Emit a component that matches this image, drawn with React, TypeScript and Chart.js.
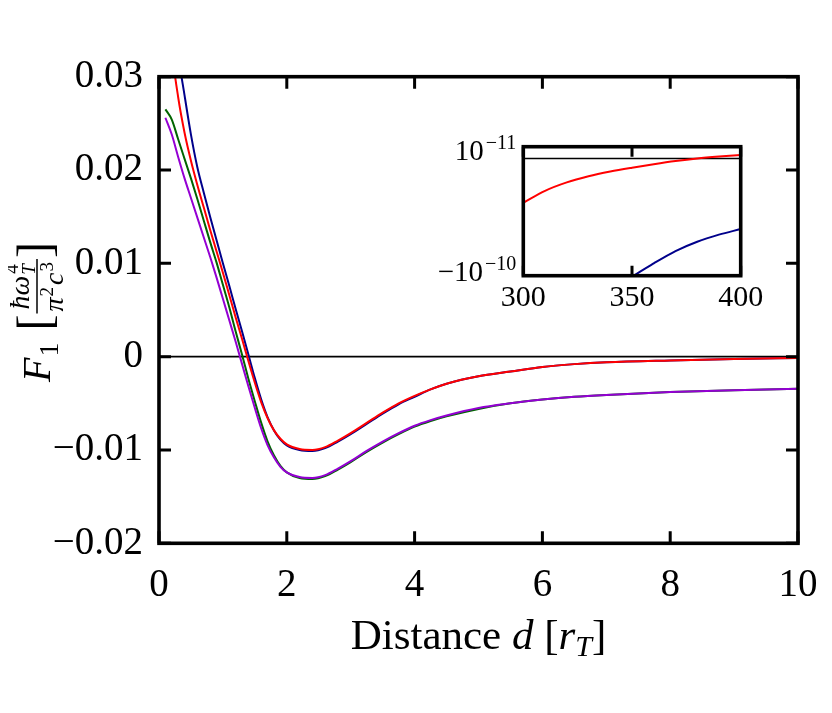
import React, { useEffect, useRef } from "react";
import { Chart, registerables } from "chart.js";
Chart.register(...registerables);

const FONT = "'Liberation Serif', 'Times New Roman', serif";

// Main plot data: distance d [r_T] and F_1 for four curves
const distance = [0.1, 0.2, 0.3, 0.4, 0.5, 0.6, 0.7, 0.8, 0.9, 1.0, 1.1, 1.2, 1.3, 1.4, 1.5, 1.6, 1.7, 1.8, 1.9, 2.0, 2.2, 2.4, 2.6, 2.8, 3.0, 3.25, 3.5, 3.75, 4.0, 4.25, 4.5, 5.0, 5.5, 6.0, 6.5, 7.0, 8.0, 9.0, 10.0];
const forceRed = [0.042, 0.033, 0.0278, 0.024, 0.021, 0.0184, 0.016, 0.0136, 0.0113, 0.009, 0.0066, 0.0042, 0.0019, -0.0005, -0.0028, -0.0049, -0.0066, -0.0079, -0.0088, -0.0094, -0.0099, -0.01, -0.0097, -0.009, -0.0082, -0.0071, -0.006, -0.005, -0.0042, -0.0035, -0.0029, -0.0021, -0.0016, -0.0011, -0.0008, -0.0006, -0.0004, -0.00025, -0.00015];
const forceBlue = [0.05, 0.0395, 0.0325, 0.028, 0.0238, 0.0203, 0.0176, 0.015, 0.0125, 0.01, 0.0076, 0.0051, 0.0027, 0.0002, -0.0023, -0.0046, -0.0065, -0.0079, -0.0089, -0.0095, -0.01, -0.0101, -0.0098, -0.0091, -0.0083, -0.0072, -0.0061, -0.0051, -0.0043, -0.0035, -0.0029, -0.0021, -0.0016, -0.0011, -0.0008, -0.0006, -0.0004, -0.00025, -0.00015];
const forceGreen = [0.0265, 0.0254, 0.0233, 0.0212, 0.0191, 0.0169, 0.0146, 0.0123, 0.0101, 0.0077, 0.0053, 0.0027, 0.0002, -0.0024, -0.0048, -0.0071, -0.0091, -0.0106, -0.0117, -0.0124, -0.013, -0.0131, -0.0128, -0.0121, -0.0113, -0.0102, -0.0092, -0.0083, -0.0075, -0.0069, -0.0064, -0.0056, -0.005, -0.0046, -0.0043, -0.0041, -0.0038, -0.0036, -0.00345];
const forcePurple = [0.0256, 0.0238, 0.0214, 0.0191, 0.017, 0.0149, 0.0128, 0.0107, 0.0085, 0.0062, 0.0039, 0.0016, -0.0008, -0.0032, -0.0055, -0.0077, -0.0095, -0.0108, -0.0118, -0.0124, -0.0129, -0.013, -0.0127, -0.012, -0.0112, -0.0101, -0.0091, -0.0082, -0.0074, -0.0068, -0.0063, -0.0055, -0.005, -0.0046, -0.0043, -0.0041, -0.0038, -0.0036, -0.00345];

// Inset data (large distances)
const insetDistanceRed = [300, 310, 320, 330, 340, 350, 360, 370, 380, 390, 400];
const insetRed = [-3.78e-11, -2.76e-11, -2.04e-11, -1.52e-11, -1.12e-11, -0.79e-11, -0.49e-11, -0.22e-11, 0.0, 0.16e-11, 0.29e-11];
const insetDistanceBlue = [340, 350, 360, 370, 380, 390, 400];
const insetBlue = [-11.5e-11, -10.1e-11, -8.95e-11, -7.9e-11, -7.1e-11, -6.5e-11, -6.02e-11];

const xTickStep = 2;
const yTickStep = 0.01;
const insetXTickStep = 50;
const insetYTickValues = [1e-11, -1e-10];
const insetYTickLabels = [["10", "\u221211"], ["\u221210", "\u221210"]];

const pts = (xs: number[], ys: number[]) => xs.map((x, i) => ({ x, y: ys[i] }));

function drawFrame(chart: any, tickLen: number, frameW: number, tickW: number, xTicks: boolean, yTicks: boolean) {
  const { ctx, chartArea } = chart;
  const { left, right, top, bottom } = chartArea;
  ctx.save();
  ctx.strokeStyle = "#000";
  ctx.lineCap = "butt";
  ctx.lineWidth = tickW;
  if (xTicks) {
    for (const t of chart.scales.x.ticks) {
      const px = chart.scales.x.getPixelForValue(t.value);
      ctx.beginPath();
      ctx.moveTo(px, bottom);
      ctx.lineTo(px, bottom - tickLen);
      ctx.moveTo(px, top);
      ctx.lineTo(px, top + tickLen);
      ctx.stroke();
    }
  }
  if (yTicks) {
    for (const t of chart.scales.y.ticks) {
      const py = chart.scales.y.getPixelForValue(t.value);
      ctx.beginPath();
      ctx.moveTo(left, py);
      ctx.lineTo(left + tickLen, py);
      ctx.moveTo(right, py);
      ctx.lineTo(right - tickLen, py);
      ctx.stroke();
    }
  }
  ctx.lineWidth = frameW;
  ctx.lineJoin = "miter";
  ctx.strokeRect(left, top, right - left, bottom - top);
  ctx.restore();
}

function drawZero(chart: any, w: number) {
  const { ctx, chartArea } = chart;
  const y0 = chart.scales.y.getPixelForValue(0);
  ctx.save();
  ctx.strokeStyle = "#000";
  ctx.lineWidth = w;
  ctx.beginPath();
  ctx.moveTo(chartArea.left, y0);
  ctx.lineTo(chartArea.right, y0);
  ctx.stroke();
  ctx.restore();
}

type Part = { t: string; font: string; dy: number };

function drawParts(ctx: CanvasRenderingContext2D, parts: Part[], cx: number, baseY: number) {
  let total = 0;
  const widths = parts.map((p) => {
    ctx.font = p.font;
    const w = ctx.measureText(p.t).width;
    total += w;
    return w;
  });
  let x = cx - total / 2;
  ctx.textAlign = "left";
  ctx.textBaseline = "alphabetic";
  parts.forEach((p, i) => {
    ctx.font = p.font;
    ctx.fillText(p.t, x, baseY + p.dy);
    x += widths[i];
  });
}

function drawYLabel(ctx: CanvasRenderingContext2D, cx: number, cy: number) {
  ctx.save();
  ctx.translate(cx, cy);
  ctx.rotate(-Math.PI / 2);
  ctx.fillStyle = "#000";
  ctx.strokeStyle = "#000";
  ctx.textAlign = "left";
  ctx.textBaseline = "alphabetic";
  const fBig = `italic 40px ${FONT}`;
  const fSub = `28px ${FONT}`;
  const fBr = `48px ${FONT}`;
  const fFrac = `italic 28px ${FONT}`;
  const fFracSmI = `italic 19px ${FONT}`;
  const fFracSm = `19px ${FONT}`;
  const m = (f: string, t: string) => { ctx.font = f; return ctx.measureText(t).width; };
  const wF = m(fBig, "F");
  const w1 = m(fSub, "1");
  const wL = m(fBr, "[");
  const wR = m(fBr, "]");
  const wHw = m(fFrac, "\u0127\u03C9");
  const wT = m(fFracSmI, "T");
  const w4 = m(fFracSm, "4");
  const wNum = wHw + 1 + Math.max(wT, w4) + 1;
  const wPi = m(fFrac, "\u03C0");
  const w2 = m(fFracSm, "2");
  const wc = m(fFrac, "c");
  const w3 = m(fFracSm, "3");
  const wDen = wPi + 1 + w2 + 2 + wc + 1 + w3 + 1;
  const wFrac = Math.max(wNum, wDen) + 6;
  const gap = 12;
  const total = wF + 1 + w1 + gap + wL + wFrac + wR;
  let u = -total / 2;
  ctx.font = fBig; ctx.fillText("F", u, 13); u += wF + 1;
  ctx.font = fSub; ctx.fillText("1", u, 21); u += w1 + gap;
  ctx.font = fBr; ctx.fillText("[", u, 13); u += wL;
  const f0 = u;
  // numerator
  let nu = f0 + (wFrac - wNum) / 2;
  ctx.font = fFrac; ctx.fillText("\u0127\u03C9", nu, -8); nu += wHw + 1;
  ctx.font = fFracSmI; ctx.fillText("T", nu, -2);
  ctx.font = fFracSm; ctx.fillText("4", nu + 1, -19);
  // line
  ctx.lineWidth = 1.5;
  ctx.beginPath(); ctx.moveTo(f0 + 1, 0); ctx.lineTo(f0 + wFrac - 1, 0); ctx.stroke();
  // denominator
  let du = f0 + (wFrac - wDen) / 2;
  ctx.font = fFrac; ctx.fillText("\u03C0", du, 26); du += wPi + 1;
  ctx.font = fFracSm; ctx.fillText("2", du, 16); du += w2 + 2;
  ctx.font = fFrac; ctx.fillText("c", du, 26); du += wc + 1;
  ctx.font = fFracSm; ctx.fillText("3", du, 16);
  u = f0 + wFrac;
  ctx.font = fBr; ctx.fillText("]", u, 13);
  ctx.restore();
}

const mainDecor = {
  id: "mainDecor",
  beforeDatasetsDraw(chart: any) {
    drawZero(chart, 1.6);
  },
  afterDraw(chart: any) {
    drawFrame(chart, 12, 3.6, 3, true, true);
    const { ctx, chartArea } = chart;
    ctx.save();
    ctx.fillStyle = "#000";
    // x tick labels from the scale's own ticks
    ctx.font = `39px ${FONT}`;
    ctx.textAlign = "center";
    ctx.textBaseline = "alphabetic";
    for (const t of chart.scales.x.ticks) {
      const px = chart.scales.x.getPixelForValue(t.value);
      ctx.fillText(String(Math.round(t.value)), px, chartArea.bottom + 53);
    }
    const cx = (chartArea.left + chartArea.right) / 2;
    drawParts(ctx, [
      { t: "Distance ", font: `43px ${FONT}`, dy: 0 },
      { t: "d", font: `italic 43px ${FONT}`, dy: 0 },
      { t: " [", font: `43px ${FONT}`, dy: 0 },
      { t: "r", font: `italic 43px ${FONT}`, dy: 0 },
      { t: "T", font: `italic 30px ${FONT}`, dy: 7 },
      { t: "]", font: `43px ${FONT}`, dy: 0 },
    ], cx, chartArea.bottom + 106);
    ctx.restore();
    drawYLabel(ctx, chartArea.left - 122, (chartArea.top + chartArea.bottom) / 2 + 2);
  },
};

const insetDecor = {
  id: "insetDecor",
  beforeDatasetsDraw(chart: any) {
    const { ctx, chartArea } = chart;
    ctx.save();
    ctx.fillStyle = "#fff";
    ctx.fillRect(chartArea.left, chartArea.top, chartArea.right - chartArea.left, chartArea.bottom - chartArea.top);
    ctx.restore();
    drawZero(chart, 1.6);
  },
  afterDraw(chart: any) {
    drawFrame(chart, 10, 3.6, 3, true, false);
    const { ctx, chartArea } = chart;
    ctx.save();
    ctx.fillStyle = "#000";
    ctx.textBaseline = "alphabetic";
    // x tick labels
    ctx.font = `30px ${FONT}`;
    ctx.textAlign = "center";
    for (const t of chart.scales.x.ticks) {
      const px = chart.scales.x.getPixelForValue(t.value);
      ctx.fillText(String(Math.round(t.value)), px, chartArea.bottom + 30);
    }
    const offsets = [13, 5];
    ctx.textAlign = "left";
    insetYTickValues.forEach((v, i) => {
      const py = chart.scales.y.getPixelForValue(v);
      const [main, sup] = insetYTickLabels[i];
      ctx.font = `20px ${FONT}`;
      const ws = ctx.measureText(sup).width;
      ctx.font = `29px ${FONT}`;
      const wm = ctx.measureText(main).width;
      const xr = chartArea.left - 7;
      ctx.font = `29px ${FONT}`;
      ctx.fillText(main, xr - ws - 2 - wm, py + offsets[i]);
      ctx.font = `20px ${FONT}`;
      ctx.fillText(sup, xr - ws, py + offsets[i] - 11);
    });
    ctx.restore();
  },
};

export default function App() {
  const mainRef = useRef<HTMLCanvasElement>(null);
  const insetRef = useRef<HTMLCanvasElement>(null);

  useEffect(() => {
    const lineDs = (label: string, xs: number[], ys: number[], color: string, order: number) => ({
      label,
      data: pts(xs, ys),
      borderColor: color,
      backgroundColor: color,
      borderWidth: 2,
      pointRadius: 0,
      fill: false,
      cubicInterpolationMode: "monotone" as const,
      order,
    });

    const tickFont = (size: number) => ({ family: FONT, size });

    const main = new Chart(mainRef.current!, {
      type: "line",
      data: {
        datasets: [
          lineDs("red", distance, forceRed, "#ff0000", 1),
          lineDs("purple", distance, forcePurple, "#9400d3", 2),
          lineDs("blue", distance, forceBlue, "#00008b", 3),
          lineDs("green", distance, forceGreen, "#006400", 4),
        ],
      },
      options: {
        responsive: false,
        animation: false,
        devicePixelRatio: 1,
        layout: { padding: { top: 68.7, right: 26, left: 0, bottom: 0 } },
        plugins: { legend: { display: false }, tooltip: { enabled: false } },
        scales: {
          x: {
            type: "linear",
            min: 0,
            max: 10,
            ticks: { stepSize: xTickStep, display: false },
            grid: { display: false, drawTicks: false },
            border: { display: false },
            afterFit: (s: any) => { s.height = 161.7; },
          },
          y: {
            type: "linear",
            min: -0.02,
            max: 0.03,
            ticks: {
              stepSize: yTickStep,
              padding: 16,
              color: "#000",
              font: tickFont(39),
              callback: (v: any) => {
                const r = Math.round(Number(v) * 100) / 100;
                if (r === 0) return "0";
                return (r < 0 ? "\u2212" : "") + Math.abs(r).toFixed(2);
              },
            },
            grid: { display: false, drawTicks: false },
            border: { display: false },
            afterFit: (s: any) => { s.width = 151; },
          },
        },
      },
      plugins: [mainDecor],
    });

    const inset = new Chart(insetRef.current!, {
      type: "line",
      data: {
        datasets: [
          lineDs("red", insetDistanceRed, insetRed, "#ff0000", 1),
          lineDs("blue", insetDistanceBlue, insetBlue, "#00008b", 2),
        ],
      },
      options: {
        responsive: false,
        animation: false,
        devicePixelRatio: 1,
        layout: { padding: { top: 21.7, right: 59.3, left: 0, bottom: 0 } },
        plugins: { legend: { display: false }, tooltip: { enabled: false } },
        scales: {
          x: {
            type: "linear",
            min: 300,
            max: 400,
            ticks: { stepSize: insetXTickStep, display: false },
            grid: { display: false, drawTicks: false },
            border: { display: false },
            afterFit: (s: any) => { s.height = 39.3; },
          },
          y: {
            type: "linear",
            min: -1e-10,
            max: 1e-11,
            ticks: { display: false },
            grid: { display: false, drawTicks: false },
            border: { display: false },
            afterFit: (s: any) => { s.width = 93.3; },
          },
        },
      },
      plugins: [insetDecor],
    });

    return () => {
      main.destroy();
      inset.destroy();
    };
  }, []);

  return (
    <div style={{ position: "relative", width: 816, height: 697 }}>
      <canvas ref={mainRef} width={816} height={697} style={{ position: "absolute", left: 0, top: 0 }} />
      <canvas ref={insetRef} width={370} height={190} style={{ position: "absolute", left: 422, top: 117 }} />
    </div>
  );
}
